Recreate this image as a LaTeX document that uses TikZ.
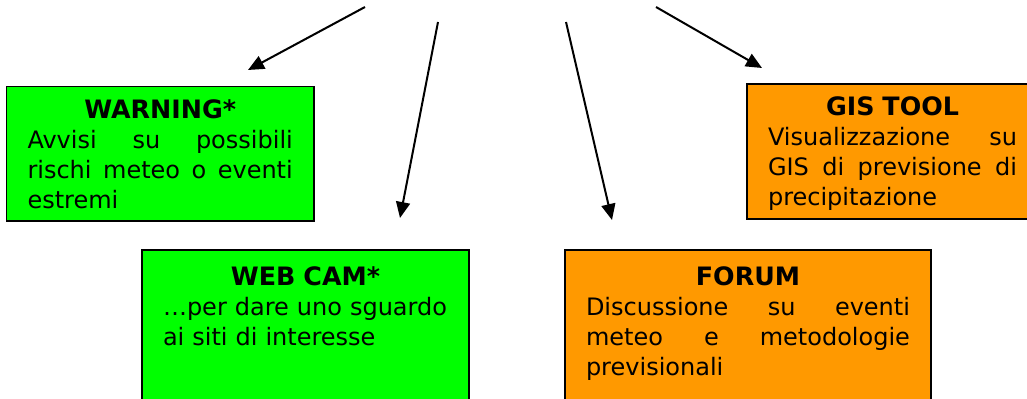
\documentclass[tikz,border=0pt]{standalone}
\usepackage{fontspec}
\setmainfont{DejaVu Sans}
\usetikzlibrary{arrows.meta}
\definecolor{boxgreen}{RGB}{0,255,0}
\definecolor{boxorange}{RGB}{255,153,0}
\newcommand{\boxhead}[1]{\makebox[\linewidth]{\fontsize{19}{22.5}\selectfont\bfseries #1}}
\begin{document}
\begin{tikzpicture}[x=0.75pt,y=-0.75pt,
   infobox/.style={draw,line width=1.1pt,rectangle,anchor=north west,outer sep=0pt,
     inner xsep=15.75pt,inner ysep=10pt,align=left,text height=14pt,
     font=\fontsize{18}{22.5}\selectfont},
   fanarrow/.style={line width=1.5pt,-{Triangle[length=12pt,width=10.5pt]}}]
   \useasboundingbox (0,0) rectangle (1027,399);
   \clip (0,0) rectangle (1027,399);
   % Top row
   \node[infobox,fill=boxgreen,text width=199pt,text depth=67pt] (warning) at (6.5,86.5)
     {\boxhead{WARNING*}\\
      Avvisi\hfill su\hfill possibili\\
      rischi\hfill meteo\hfill o\hfill eventi\\
      estremi};
   \node[infobox,fill=boxorange,text width=186.75pt,text depth=67.25pt] (gistool) at (747,84)
     {\boxhead{GIS TOOL}\\
      Visualizzazione\hfill su\\
      GIS\hfill di\hfill previsione\hfill di\\
      precipitazione};
   % Bottom row
   \node[infobox,fill=boxgreen,inner ysep=12.5pt,text width=213.75pt,text depth=120pt] (webcam) at (142,250)
     {\boxhead{WEB CAM*}\\
      …per dare uno sguardo\\
      ai siti di interesse};
   \node[infobox,fill=boxorange,inner ysep=12.5pt,text width=243pt,text depth=120pt] (forum) at (565,250)
     {\boxhead{FORUM}\\
      Discussione\hfill su\hfill eventi\\
      meteo\hfill e\hfill metodologie\\
      previsionali};
   % Arrows
   \coordinate (w0) at (365,7);   \coordinate (w1) at (248,70);
   \coordinate (c0) at (438,22);  \coordinate (c1) at (400,218);
   \coordinate (f0) at (566,22);  \coordinate (f1) at (612,220);
   \coordinate (g0) at (656,7);   \coordinate (g1) at (762,68);
   \draw[fanarrow] (w0) -- (w1);
   \draw[fanarrow] (c0) -- (c1);
   \draw[fanarrow] (f0) -- (f1);
   \draw[fanarrow] (g0) -- (g1);
\end{tikzpicture}
\end{document}
